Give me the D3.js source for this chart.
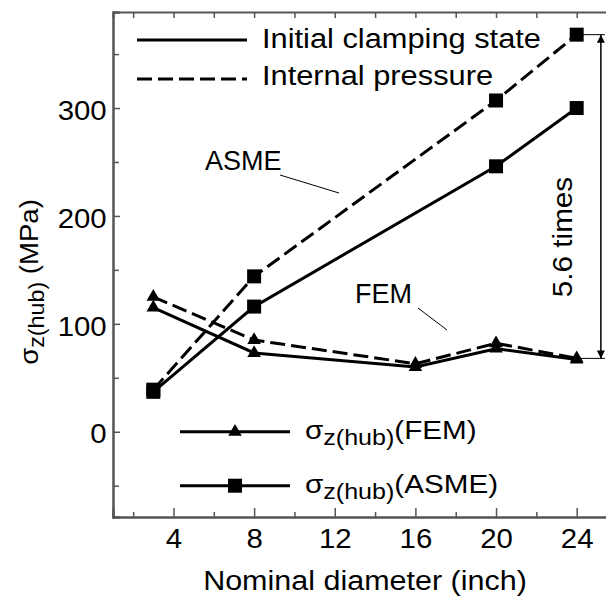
<!DOCTYPE html>
<html>
<head>
<meta charset="utf-8">
<script src="https://cdn.jsdelivr.net/npm/d3@7"></script>
<style>
body { margin: 0; background: white; }
text { font-family: "Liberation Sans", Arial, sans-serif; fill: black; }
</style>
</head>
<body>
<div id="chart"></div>
<script>
const femDiameters = [3, 8, 16, 20, 24];
const femInitial = [115, 73, 60, 77, 67];
const femInternal = [125, 85, 63, 82, 68];

const asmeDiameters = [3, 8, 20, 24];
const asmeInitial = [37, 116, 246, 300];
const asmeInternal = [39, 144, 307, 368];

const xTicks = [4, 8, 12, 16, 20, 24];
const yTicks = [0, 100, 200, 300];

const width = 606;
const height = 601;
const margin = {left:113, top:12, bottom:84};

const xScale = d3.scaleLinear().domain([1, 26]).range([margin.left, 617]);
const yScale = d3.scaleLinear().domain([-79, 389]).range([height-margin.bottom, margin.top]);

const svg = d3.select("#chart")
    .append("svg")
    .attr("width",width)
    .attr("height",height);

// text helper, glyphs in the picture are a bit wider than Arial
const addText = (x,y,size,stretch,rotate=0,anchor="start") =>
{
    return svg.append("text")
        .attr("transform",`translate(${x},${y}) rotate(${rotate}) scale(${stretch},1)`)
        .attr("text-anchor",anchor)
        .attr("font-size",size);
}

// frame + ticks
const frameColor = "#555";
const xAxisBottom = svg.append("g")
    .attr("transform",`translate(0,${yScale(-79)})`)
    .call(d3.axisBottom(xScale).tickValues(xTicks).tickSize(-9).tickPadding(11).tickFormat(d3.format("d")));
const xMinor = svg.append("g")
    .attr("transform",`translate(0,${yScale(-79)})`)
    .call(d3.axisBottom(xScale).tickValues([2,6,10,14,18,22]).tickSize(-5).tickFormat(""));
const xTop = svg.append("g")
    .attr("transform",`translate(0,${yScale(389)})`)
    .call(d3.axisTop(xScale).tickValues([2,4,6,8,10,12,14,16,18,20,22,24]).tickSize(-6).tickFormat(""));
const yLeft = svg.append("g")
    .attr("transform",`translate(${margin.left},0)`)
    .call(d3.axisLeft(yScale).tickValues(yTicks).tickSize(-7).tickPadding(6));
const yMinor = svg.append("g")
    .attr("transform",`translate(${margin.left},0)`)
    .call(d3.axisLeft(yScale).tickValues([-50,50,150,250,350]).tickSize(-6).tickFormat(""));
const yRight = svg.append("g")
    .attr("transform",`translate(${xScale(26)},0)`)
    .call(d3.axisRight(yScale).tickValues(yTicks).tickSize(-7).tickFormat(""));

[xAxisBottom,xMinor,xTop,yLeft,yMinor,yRight].forEach(g =>
{
    g.select(".domain").attr("stroke",frameColor).attr("stroke-width",2);
    g.selectAll(".tick line").attr("stroke",frameColor).attr("stroke-width",1.5);
    g.selectAll(".tick text").attr("font-size",28).attr("fill","black")
        .attr("font-family","'Liberation Sans', Arial, sans-serif")
        .attr("transform","scale(1.05,1)");
});
yLeft.selectAll(".tick text").attr("dy","0.4em");

// series
const lineGen = d3.line().x(d => xScale(d[0])).y(d => yScale(d[1]));
const dashPattern = "15,6";

const series = [
    {xs:asmeDiameters, ys:asmeInternal, dash:dashPattern, marker:"square"},
    {xs:asmeDiameters, ys:asmeInitial, dash:null, marker:"square"},
    {xs:femDiameters, ys:femInternal, dash:dashPattern, marker:"triangle"},
    {xs:femDiameters, ys:femInitial, dash:null, marker:"triangle"}
];

const squareSym = d3.symbol().type(d3.symbolSquare).size(196);
const triangleSym = d3.symbol().type(d3.symbolTriangle).size(80);

series.forEach(s =>
{
    const pts = s.xs.map((x,i) => [x, s.ys[i]]);
    svg.append("path")
        .attr("d",lineGen(pts))
        .attr("fill","none")
        .attr("stroke","black")
        .attr("stroke-width",3)
        .attr("stroke-dasharray",s.dash);
    svg.selectAll(null)
        .data(pts)
        .enter()
        .append("path")
        .attr("d",s.marker == "square" ? squareSym() : triangleSym())
        .attr("transform",d => `translate(${xScale(d[0])},${yScale(d[1])})`)
        .attr("fill","black");
});

// top legend
const legendTop = [
    {label:"Initial clamping state", dash:null, y:40, base:48},
    {label:"Internal pressure", dash:dashPattern, y:79, base:85}
];
legendTop.forEach(l =>
{
    svg.append("line")
        .attr("x1",137).attr("x2",247)
        .attr("y1",l.y).attr("y2",l.y)
        .attr("stroke","black")
        .attr("stroke-width",3)
        .attr("stroke-dasharray",l.dash);
    addText(262,l.base,28,1.1).text(l.label);
});

// bottom legend
const legendBottom = [
    {label:"FEM", marker:"triangle", y:yScale(0)},
    {label:"ASME", marker:"square", y:yScale(-50)}
];
legendBottom.forEach(l =>
{
    svg.append("line")
        .attr("x1",180).attr("x2",290)
        .attr("y1",l.y).attr("y2",l.y)
        .attr("stroke","black")
        .attr("stroke-width",3);
    svg.append("path")
        .attr("d",l.marker == "square" ? squareSym() : triangleSym())
        .attr("transform",`translate(235,${l.y})`)
        .attr("fill","black");
    const t = addText(305,l.y+7,26,1.14);
    t.append("tspan").text("σ");
    t.append("tspan").attr("dy",6).attr("font-size",22).text("z(hub)");
    t.append("tspan").attr("dy",-6).text(`(${l.label})`);
});

// annotations
addText(205,170,27,1).text("ASME");
svg.append("line").attr("x1",280).attr("y1",175).attr("x2",339).attr("y2",193)
    .attr("stroke","black").attr("stroke-width",1);
addText(355,303,27,1).text("FEM");
svg.append("line").attr("x1",418).attr("y1",308).attr("x2",447).attr("y2",330)
    .attr("stroke","black").attr("stroke-width",1);

// 5.6 times arrow
const arrowX = xScale(25.2);
const topY = yScale(asmeInternal[3]);
const botY = yScale(femInternal[4]);
svg.append("defs").append("marker")
    .attr("id","arrowhead")
    .attr("viewBox","0 0 10 10")
    .attr("refX",10).attr("refY",5)
    .attr("markerWidth",18).attr("markerHeight",8)
    .attr("markerUnits","userSpaceOnUse")
    .attr("orient","auto-start-reverse")
    .append("path")
    .attr("d","M0,0 L10,5 L0,10 Z")
    .attr("fill","black");
svg.append("line").attr("x1",xScale(24)).attr("x2",arrowX+4).attr("y1",topY).attr("y2",topY)
    .attr("stroke","black").attr("stroke-width",1);
svg.append("line").attr("x1",xScale(24)).attr("x2",arrowX+4).attr("y1",botY).attr("y2",botY)
    .attr("stroke","black").attr("stroke-width",1);
svg.append("line")
    .attr("x1",arrowX).attr("x2",arrowX)
    .attr("y1",topY).attr("y2",botY)
    .attr("stroke","black").attr("stroke-width",1.5)
    .attr("marker-start","url(#arrowhead)")
    .attr("marker-end","url(#arrowhead)");
addText(572,237,28,1.06,-90,"middle").text("5.6 times");

// axis titles
addText(365,590,28,1.09,0,"middle").text("Nominal diameter (inch)");

const yTitle = addText(38,282,26,1.06,-90,"middle");
yTitle.append("tspan").text("σ");
yTitle.append("tspan").attr("dy",6).attr("font-size",22).text("z(hub)");
yTitle.append("tspan").attr("dy",-6).text(" (MPa)");
</script>
</body>
</html>
